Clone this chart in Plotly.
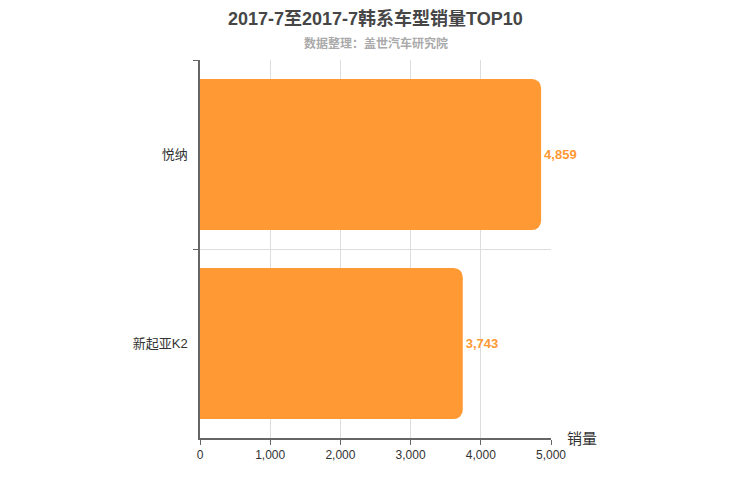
import plotly.graph_objects as go

models = ["悦纳", "新起亚K2"]
sales = [4859, 3743]
x_ticks = [0, 1000, 2000, 3000, 4000, 5000]

FONT = "Liberation Sans, Noto Sans CJK SC, sans-serif"
ORANGE = "#FF9933"

fig = go.Figure(go.Bar(
    x=sales, y=models, orientation="h",
    marker=dict(color=ORANGE, line=dict(width=0)),
    width=0.8,
    text=[f"<b>{v:,}</b>" for v in sales],
    textposition="outside",
    textfont=dict(color=ORANGE, size=13, family=FONT),
    cliponaxis=False,
    hoverinfo="x+y",
))

fig.update_layout(
    width=750, height=500,
    margin=dict(l=192, r=207, t=52, b=70),
    paper_bgcolor="white", plot_bgcolor="white",
    barcornerradius=9,
    showlegend=False,
    font=dict(family=FONT, color="#333"),
    annotations=[
        dict(text="<b>2017-7至2017-7韩系车型销量TOP10</b>", xref="paper", yref="paper",
             x=0.5, y=1, yshift=42, xanchor="center", yanchor="middle",
             showarrow=False, font=dict(size=18, color="#464646", family=FONT)),
        dict(text="<b>数据整理：盖世汽车研究院</b>", xref="paper", yref="paper",
             x=0.5, y=1, yshift=17, xanchor="center", yanchor="middle",
             showarrow=False, font=dict(size=12, color="#AAAAAA", family=FONT)),
        dict(text="销量", xref="paper", yref="paper",
             x=1, y=0, xshift=14, yshift=0, xanchor="left", yanchor="middle",
             showarrow=False, font=dict(size=15, color="#333", family=FONT)),
    ],
)

fig.update_xaxes(
    range=[0, 5000], tickvals=x_ticks, tickformat=",",
    showgrid=True, gridcolor="#DDDDDD", gridwidth=1,
    showline=True, linecolor="#666", linewidth=1.5,
    ticks="outside", ticklen=5, tickcolor="#666",
    tickfont=dict(size=12, color="#333", family=FONT),
    zeroline=False, fixedrange=True,
)
fig.update_yaxes(
    autorange="reversed", type="category",
    tickson="boundaries",
    showgrid=True, gridcolor="#DDDDDD", gridwidth=1,
    showline=True, linecolor="#666", linewidth=1.5,
    ticks="outside", ticklen=5, tickcolor="#666",
    tickfont=dict(size=13, color="#333", family=FONT),
    ticklabelstandoff=8,
    zeroline=False, fixedrange=True,
)

fig.write_html("out.html")
